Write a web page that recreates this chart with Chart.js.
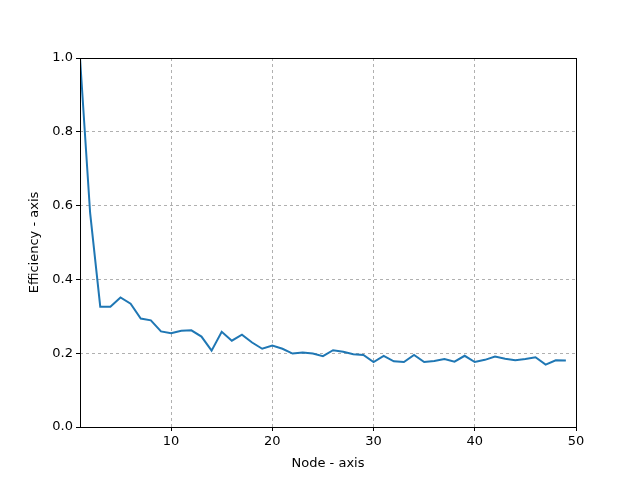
<!DOCTYPE html>
<html>
<head>
<meta charset="utf-8">
<script src="https://cdn.jsdelivr.net/npm/chart.js@4"></script>
<style>
  html, body { margin: 0; padding: 0; background: #fff; }
  #wrap { width: 640px; height: 480px; }
</style>
</head>
<body>
<div id="wrap"><canvas id="chart" width="640" height="480"></canvas></div>
<script>
const nodes = [];
for (let n = 1; n <= 49; n++) nodes.push(n);

const efficiency = [
    1.0, 0.58, 0.326, 0.326, 0.351, 0.334, 0.294, 0.289, 0.259, 0.254,
    0.261, 0.262, 0.245, 0.207, 0.258, 0.234, 0.250, 0.229, 0.212, 0.221,
    0.212, 0.199, 0.202, 0.199, 0.192, 0.208, 0.204, 0.197, 0.195, 0.176,
    0.193, 0.178, 0.176, 0.195, 0.176, 0.179, 0.184, 0.177, 0.193, 0.176,
    0.182, 0.191, 0.185, 0.181, 0.184, 0.189, 0.169, 0.181, 0.180
];

const xTicks = [10, 20, 30, 40, 50];
const yTicks = [0.0, 0.2, 0.4, 0.6, 0.8, 1.0];

const FONT = "'DejaVu Sans', sans-serif";

const frame = {
    id: "frame",
    afterDraw(chart) {
        const a = chart.chartArea;
        const ctx = chart.ctx;
        ctx.save();
        ctx.strokeStyle = "#000";
        ctx.lineWidth = 1;
        ctx.setLineDash([]);
        ctx.strokeRect(Math.round(a.left) + 0.5, Math.round(a.top) + 0.5,
            Math.round(a.right - a.left), Math.round(a.bottom - a.top));
        ctx.restore();
    }
};

new Chart(document.getElementById("chart").getContext("2d"), {
    type: "line",
    data: {
        datasets: [{
            data: nodes.map((n, i) => ({ x: n, y: efficiency[i] })),
            borderColor: "#1f77b4",
            borderWidth: 2,
            pointRadius: 0,
            fill: false,
            tension: 0
        }]
    },
    options: {
        responsive: false,
        animation: false,
        layout: { padding: { top: 58, right: 64, left: 27, bottom: 9 } },
        plugins: { legend: { display: false }, tooltip: { enabled: false } },
        scales: {
            x: {
                type: "linear",
                min: 1,
                max: 50,
                afterBuildTicks: axis => { axis.ticks = xTicks.map(v => ({ value: v })); },
                afterFit: axis => { axis.height = 44; },
                border: { display: false, dash: [3, 3] },
                grid: {
                    color: "#b0b0b0",
                    lineWidth: 1,
                    tickColor: "#000",
                    tickLength: 4,
                    tickBorderDash: []
                },
                ticks: {
                    color: "#000",
                    font: { family: FONT, size: 13 },
                    padding: 3,
                    maxRotation: 0
                },
                title: {
                    display: true,
                    text: "Node - axis",
                    color: "#000",
                    font: { family: FONT, size: 13 },
                    padding: { top: 2, bottom: 0 }
                }
            },
            y: {
                min: 0,
                max: 1,
                afterBuildTicks: axis => { axis.ticks = yTicks.map(v => ({ value: v })); },
                afterFit: axis => { axis.width = 53; },
                border: { display: false, dash: [3, 3] },
                grid: {
                    color: "#b0b0b0",
                    lineWidth: 1,
                    tickColor: "#000",
                    tickLength: 4,
                    tickBorderDash: []
                },
                ticks: {
                    color: "#000",
                    font: { family: FONT, size: 13 },
                    padding: 3,
                    callback: v => v.toFixed(1)
                },
                title: {
                    display: true,
                    text: "Efficiency - axis",
                    color: "#000",
                    font: { family: FONT, size: 13 },
                    padding: { top: 0, bottom: 4 }
                }
            }
        }
    },
    plugins: [frame]
});
</script>
</body>
</html>
